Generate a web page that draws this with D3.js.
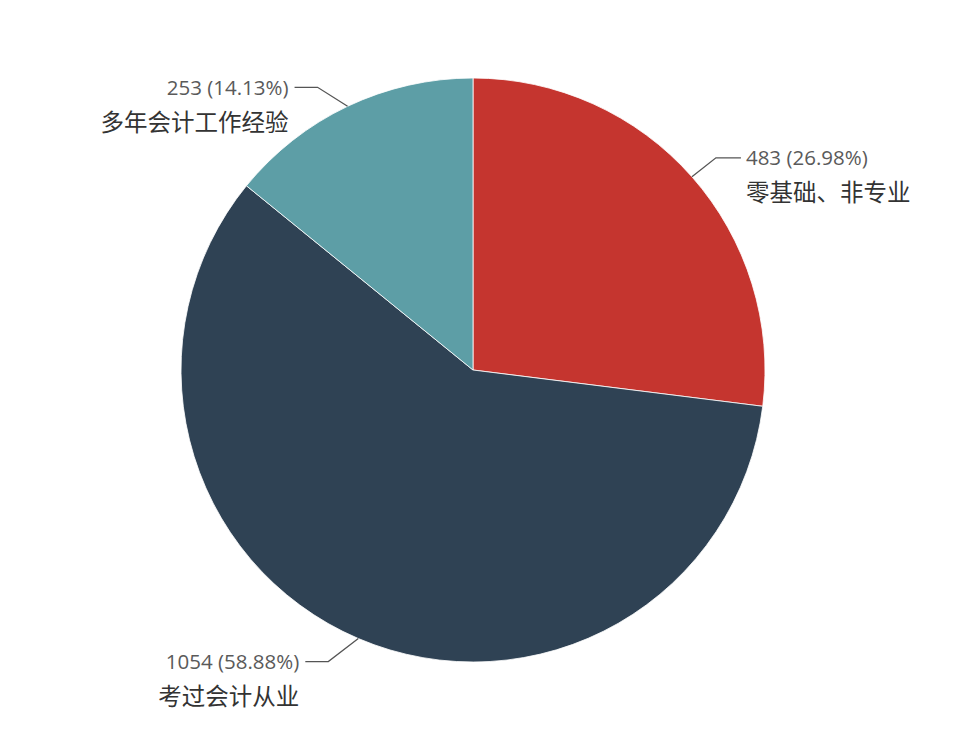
<!DOCTYPE html>
<html>
<head>
<meta charset="utf-8">
<script src="https://cdn.jsdelivr.net/npm/d3@7"></script>
<style>
  html, body { margin: 0; padding: 0; background: #fff; }
  svg { display: block; }
</style>
</head>
<body>
<svg width="964" height="744"></svg>
<script>
// slices, clockwise from 12 o'clock
const categories = ["零基础、非专业", "考过会计从业", "多年会计工作经验"];
const counts = [483, 1054, 253];
const percents = ["26.98%", "58.88%", "14.13%"];
const colors = ["#c5352f", "#2f4254", "#5d9ea6"];

const svg = d3.select("svg");
const cx = 473, cy = 370, radius = 292;

const data = categories.map((c, i) => ({ name: c, value: counts[i], pct: percents[i], color: colors[i] }));

const pie = d3.pie()
    .sort(null)
    .value(d => d.value);

const arc = d3.arc().innerRadius(0).outerRadius(radius);

const arcs = pie(data);

const g = svg.append("g").attr("transform", `translate(${cx},${cy})`);

g.selectAll("path.slice")
    .data(arcs)
    .join("path")
    .attr("class", "slice")
    .attr("d", arc)
    .attr("fill", d => d.data.color)
    .attr("stroke", "#fff")
    .attr("stroke-width", 0.8);

// leader lines: from the arc edge, short diagonal, then flat
const mid = d => (d.startAngle + d.endAngle) / 2;
const isRight = d => mid(d) < Math.PI;
const edgePoint = d => [Math.sin(mid(d)) * radius, -Math.cos(mid(d)) * radius];
const bendPoint = d => {
    const p = edgePoint(d);
    const up = Math.cos(mid(d)) > 0;
    return [p[0] + (isRight(d) ? 24 : -30), p[1] + (up ? -19 : 23)];
};
const endPoint = d => {
    const p = bendPoint(d);
    return [p[0] + (isRight(d) ? 25 : -23), p[1]];
};

g.selectAll("polyline.leader")
    .data(arcs)
    .join("polyline")
    .attr("class", "leader")
    .attr("fill", "none")
    .attr("stroke", "#555")
    .attr("stroke-width", 1.3)
    .attr("points", d => [edgePoint(d), bendPoint(d), endPoint(d)].map(p => p.join(",")).join(" "));

const labels = g.selectAll("g.label")
    .data(arcs)
    .join("g")
    .attr("class", "label")
    .attr("transform", d => {
        const p = endPoint(d);
        return `translate(${p[0] + (isRight(d) ? 5 : -6)},${p[1]})`;
    });

labels.append("text")
    .attr("text-anchor", d => isRight(d) ? "start" : "end")
    .attr("dy", "0.35em")
    .attr("font-family", "'Open Sans', 'Noto Sans', sans-serif")
    .attr("font-size", 20.5)
    .attr("fill", "#5a5a5a")
    .text(d => `${d.data.value} (${d.data.pct})`);

labels.append("text")
    .attr("text-anchor", d => isRight(d) ? "start" : "end")
    .attr("y", 35)
    .attr("dy", "0.35em")
    .attr("font-family", "'Noto Sans CJK SC', sans-serif")
    .attr("font-size", 23.5)
    .attr("fill", "#333")
    .text(d => d.data.name);
</script>
</body>
</html>
